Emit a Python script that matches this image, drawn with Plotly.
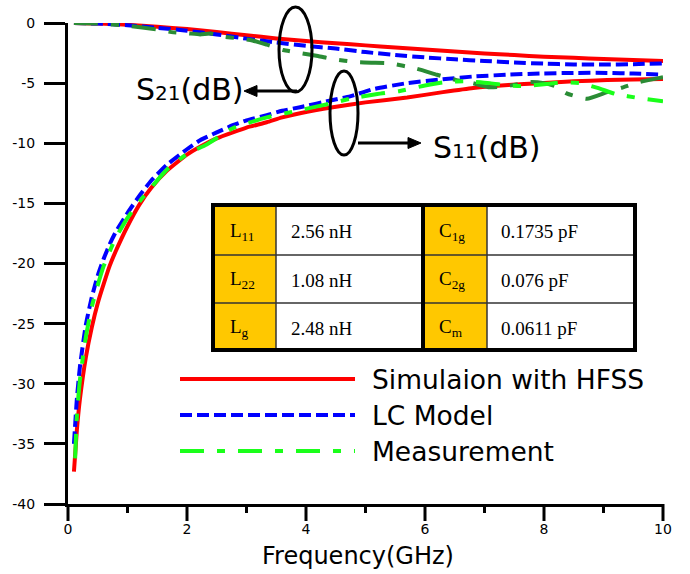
import plotly.graph_objects as go

# ---- S-parameter data (frequency in GHz, magnitude in dB) ----
# S21, HFSS simulation
f_s21_hfss = [0.1, 0.5, 1.0, 1.5, 2.0, 2.5, 3.0, 3.5, 4.0, 4.5, 5.0, 5.5, 6.0, 6.5, 7.0, 7.5, 8.0, 8.5, 9.0, 9.5, 10.0]
s21_hfss = [0.0, -0.04, -0.15, -0.32, -0.5, -0.75, -1.02, -1.28, -1.5, -1.68, -1.86, -2.03, -2.2, -2.37, -2.53, -2.67, -2.8, -2.9, -3.0, -3.08, -3.17]

# S21, LC model
f_s21_lc = [0.1, 0.5, 1.0, 1.5, 2.0, 2.5, 3.0, 3.5, 4.0, 4.5, 5.0, 5.5, 6.0, 6.5, 7.0, 7.5, 8.0, 8.5, 9.0, 9.5, 10.0]
s21_lc = [0.0, -0.05, -0.18, -0.4, -0.64, -0.95, -1.3, -1.62, -1.9, -2.13, -2.42, -2.66, -2.86, -3.02, -3.16, -3.28, -3.38, -3.45, -3.46, -3.42, -3.36]

# S21, measurement
f_s21_meas = [0.1, 0.5, 1.0, 1.5, 1.77, 2.0, 2.22, 2.4, 2.56, 2.9, 3.1, 3.34, 3.62, 3.9, 4.2, 4.45, 4.85, 5.1, 5.4, 5.86, 6.2,
              6.53, 6.8, 7.09, 7.38, 7.77, 8.0, 8.21, 8.38, 8.72, 9.06, 9.33, 9.61, 10.0]
s21_meas = [0.0, -0.05, -0.22, -0.55, -0.78, -0.85, -0.95, -0.88, -1.1, -1.3, -1.45, -1.8, -2.25, -2.5, -2.75, -3.0, -3.25, -3.3,
            -3.35, -3.8, -4.3, -4.75, -5.0, -5.35, -5.25, -4.9, -5.0, -5.3, -5.85, -6.3, -5.75, -5.35, -4.9, -4.5]

# S11, HFSS simulation
f_s11_hfss = [0.1, 0.15, 0.2, 0.3, 0.4, 0.5, 0.6, 0.7, 0.8, 1.0, 1.2, 1.4, 1.66, 2.0, 2.22, 2.5, 2.77, 3.0, 3.34, 3.6, 3.9,
              4.45, 5.0, 5.7, 6.3, 6.81, 7.4, 7.93, 8.5, 9.06, 9.5, 10.0]
s11_hfss = [-37.3, -33.8, -31.3, -27.8, -25.3, -23.3, -21.7, -20.2, -19.0, -16.9, -15.1, -13.7, -12.3, -10.95, -10.3, -9.6,
            -9.1, -8.7, -8.25, -7.85, -7.5, -7.0, -6.6, -6.2, -5.75, -5.4, -5.15, -5.0, -4.85, -4.75, -4.7, -4.65]

# S11, LC model
f_s11_lc = [0.1, 0.15, 0.2, 0.3, 0.4, 0.5, 0.6, 0.7, 0.8, 1.0, 1.21, 1.4, 1.66, 2.0, 2.22, 2.5, 2.77, 3.0, 3.34, 3.6, 3.9,
            4.45, 4.74, 5.13, 5.7, 6.25, 6.81, 7.38, 7.93, 8.5, 9.06, 9.5, 10.0]
s11_lc = [-35.0, -31.2, -28.6, -25.1, -22.8, -21.0, -19.6, -18.4, -17.4, -15.8, -14.3, -13.1, -11.8, -10.5, -9.75, -9.1,
          -8.5, -8.1, -7.67, -7.3, -7.0, -6.4, -6.1, -5.5, -5.0, -4.7, -4.45, -4.3, -4.2, -4.15, -4.15, -4.2, -4.3]

# S11, measurement
f_s11_meas = [0.12, 0.15, 0.2, 0.3, 0.4, 0.5, 0.6, 0.7, 0.8, 1.0, 1.26, 1.66, 2.0, 2.33, 2.77, 3.34, 3.9, 4.45, 4.74, 5.2,
              5.58, 6.0, 6.37, 6.7, 7.09, 7.4, 7.65, 8.0, 8.3, 8.6, 8.9, 9.2, 9.61, 10.0]
s11_meas = [-36.2, -32.6, -29.7, -26.1, -23.6, -21.8, -20.2, -19.0, -17.9, -16.2, -14.5, -12.2, -10.9, -10.1, -8.75, -7.85,
            -7.25, -6.65, -6.3, -5.9, -5.65, -5.2, -4.9, -4.85, -5.0, -5.2, -5.25, -5.1, -4.95, -5.0, -5.4, -5.9, -6.25, -6.5]

# Axis ticks
y_ticks = [0, -5, -10, -15, -20, -25, -30, -35, -40]
y_tick_text = ["0", "-5", "-10", "-15", "-20", "-25", "-30", "-35", "-40"]
x_ticks = [0, 2, 4, 6, 8, 10]
x_tick_text = ["0", "2", "4", "6", "8", "10"]
x_minor_ticks = [1, 3, 5, 7, 9]

# Table of extracted LC-model parameters
tab_names_left = ["L<sub>11</sub>", "L<sub>22</sub>", "L<sub>g</sub>"]
tab_vals_left = ["2.56 nH", "1.08 nH", "2.48 nH"]
tab_names_right = ["C<sub>1g</sub>", "C<sub>2g</sub>", "C<sub>m</sub>"]
tab_vals_right = ["0.1735 pF", "0.076 pF", "0.0611 pF"]

# Legend entries
legend_labels = ["Simulaion with HFSS", "LC Model", "Measurement"]

RED = "#ff0000"
BLUE = "#0000ff"
LIME = "#1aff1a"
DKGREEN = "#2a8c35"
DASH = "12px,5px"
DASHDOT = "24px,13px,8px,13px"
SANS = "DejaVu Sans"
SERIF = "Liberation Serif"

W, H = 690, 574
L, R, T, B = 68, 27, 23, 70
X_RANGE = [0, 10]
Y_RANGE = [-40, 0]
PLOT_H = H - T - B


def px_x(p):
    return (p - L) / (W - L - R)


def px_y(p):
    return (H - B - p) / PLOT_H


fig = go.Figure()


def add_curve(x, y, color, dash):
    fig.add_trace(go.Scatter(x=x, y=y, mode="lines", showlegend=False,
                             line=dict(color=color, width=4, dash=dash, shape="spline", smoothing=0.5)))


add_curve(f_s21_hfss, s21_hfss, RED, "solid")
add_curve(f_s11_hfss, s11_hfss, RED, "solid")
add_curve(f_s21_lc, s21_lc, BLUE, DASH)
add_curve(f_s11_lc, s11_lc, BLUE, DASH)
add_curve(f_s21_meas, s21_meas, DKGREEN, DASHDOT)
add_curve(f_s11_meas, s11_meas, LIME, DASHDOT)

shapes = []
annotations = []

# Frequency-axis tick marks (long at labelled values, short in between)
for vals, length in ((x_ticks, 17), (x_minor_ticks, 9)):
    for v in vals:
        xp = (v - X_RANGE[0]) / (X_RANGE[1] - X_RANGE[0])
        shapes.append(dict(type="line", xref="paper", yref="paper", x0=xp, x1=xp,
                           y0=0, y1=-length / PLOT_H, line=dict(color="black", width=3)))

# Ellipses marking the two groups of curves
shapes.append(dict(type="circle", xref="paper", yref="paper",
                   x0=px_x(279), x1=px_x(312), y0=px_y(92), y1=px_y(7),
                   line=dict(color="black", width=3)))
shapes.append(dict(type="circle", xref="paper", yref="paper",
                   x0=px_x(330), x1=px_x(358), y0=px_y(155), y1=px_y(71),
                   line=dict(color="black", width=3)))


def arrow(x_tail, x_head, y):
    """Horizontal arrow with a filled triangular head."""
    d = 1 if x_head > x_tail else -1
    shapes.append(dict(type="line", xref="paper", yref="paper",
                       x0=px_x(x_tail), x1=px_x(x_head - d * 8), y0=px_y(y), y1=px_y(y),
                       line=dict(color="black", width=3)))
    path = "M {} {} L {} {} L {} {} Z".format(
        px_x(x_head), px_y(y), px_x(x_head - d * 13), px_y(y - 5.5), px_x(x_head - d * 13), px_y(y + 5.5))
    shapes.append(dict(type="path", xref="paper", yref="paper", path=path,
                       fillcolor="black", line=dict(color="black", width=1)))


arrow(297, 244, 91)
arrow(358, 421, 143)

annotations.append(dict(xref="paper", yref="paper", x=px_x(134), y=px_y(89), xanchor="left", yanchor="middle",
                        text='S<span style="font-size:20px">21</span>(dB)', showarrow=False,
                        font=dict(family=SANS, size=30, color="black")))
annotations.append(dict(xref="paper", yref="paper", x=px_x(431), y=px_y(147), xanchor="left", yanchor="middle",
                        text='S<span style="font-size:20px">11</span>(dB)', showarrow=False,
                        font=dict(family=SANS, size=30, color="black")))

# Parameter table
tx = [213, 276, 423, 487, 635]
ty = [205, 255, 303, 350]
YELLOW = "#ffc800"
for c0, c1 in [(tx[0], tx[1]), (tx[2], tx[3])]:
    shapes.append(dict(type="rect", xref="paper", yref="paper", x0=px_x(c0), x1=px_x(c1),
                       y0=px_y(ty[-1]), y1=px_y(ty[0]), fillcolor=YELLOW, line=dict(width=0), layer="above"))
for c0, c1 in [(tx[1], tx[2]), (tx[3], tx[4])]:
    shapes.append(dict(type="rect", xref="paper", yref="paper", x0=px_x(c0), x1=px_x(c1),
                       y0=px_y(ty[-1]), y1=px_y(ty[0]), fillcolor="white", line=dict(width=0), layer="above"))
for yy in ty[1:-1]:
    shapes.append(dict(type="line", xref="paper", yref="paper", x0=px_x(tx[0]), x1=px_x(tx[-1]),
                       y0=px_y(yy), y1=px_y(yy), line=dict(color="#333333", width=1.5), layer="above"))
for xx in (tx[1], tx[3]):
    shapes.append(dict(type="line", xref="paper", yref="paper", x0=px_x(xx), x1=px_x(xx),
                       y0=px_y(ty[0]), y1=px_y(ty[-1]), line=dict(color="#333333", width=1.5), layer="above"))
shapes.append(dict(type="line", xref="paper", yref="paper", x0=px_x(tx[2]), x1=px_x(tx[2]),
                   y0=px_y(ty[0]), y1=px_y(ty[-1]), line=dict(color="black", width=4), layer="above"))
shapes.append(dict(type="rect", xref="paper", yref="paper", x0=px_x(tx[0]), x1=px_x(tx[-1]),
                   y0=px_y(ty[-1]), y1=px_y(ty[0]), line=dict(color="black", width=4), layer="above"))

row_mid = [232, 280, 328]
for i in range(3):
    for col_x, txt in [(228, tab_names_left[i]), (289, tab_vals_left[i]),
                       (437, tab_names_right[i]), (499, tab_vals_right[i])]:
        annotations.append(dict(xref="paper", yref="paper", x=px_x(col_x), y=px_y(row_mid[i]),
                                xanchor="left", yanchor="middle", text=txt, showarrow=False,
                                font=dict(family=SERIF, size=19, color="black")))

# Legend drawn as long line samples with labels
legend_y = [379, 415, 451]
legend_styles = [(RED, "solid"), (BLUE, DASH), (LIME, DASHDOT)]
for yy, (col, dsh), lab in zip(legend_y, legend_styles, legend_labels):
    shapes.append(dict(type="line", xref="paper", yref="paper", x0=px_x(180), x1=px_x(355),
                       y0=px_y(yy), y1=px_y(yy), line=dict(color=col, width=4, dash=dsh)))
    annotations.append(dict(xref="paper", yref="paper", x=px_x(370), y=px_y(yy), xanchor="left",
                            yanchor="middle", text=lab, showarrow=False,
                            font=dict(family=SANS, size=26.5, color="black")))

# X-axis title
annotations.append(dict(xref="paper", yref="paper", x=px_x(358), y=px_y(556), xanchor="center",
                        yanchor="middle", text="Frequency(GHz)", showarrow=False,
                        font=dict(family=SANS, size=24, color="black")))

fig.update_layout(
    width=W, height=H,
    margin=dict(l=L, r=R, t=T, b=B, pad=0),
    paper_bgcolor="white", plot_bgcolor="white",
    shapes=shapes, annotations=annotations,
    showlegend=False,
    font=dict(family=SANS, color="black"),
    xaxis=dict(range=X_RANGE, tickmode="array", tickvals=x_ticks, ticktext=x_tick_text, ticks="",
               showline=True, linewidth=3, linecolor="black", showgrid=False, zeroline=False,
               tickfont=dict(family=SANS, size=14, color="black"), ticklabelstandoff=10),
    yaxis=dict(range=Y_RANGE, tickmode="array", tickvals=y_ticks, ticktext=y_tick_text, ticks="outside",
               ticklen=21, tickwidth=3, tickcolor="black", showline=True, linewidth=3, linecolor="black",
               showgrid=False, zeroline=False, tickfont=dict(family=SANS, size=14, color="black"),
               ticklabelstandoff=6),
)

fig.write_html("out.html")
